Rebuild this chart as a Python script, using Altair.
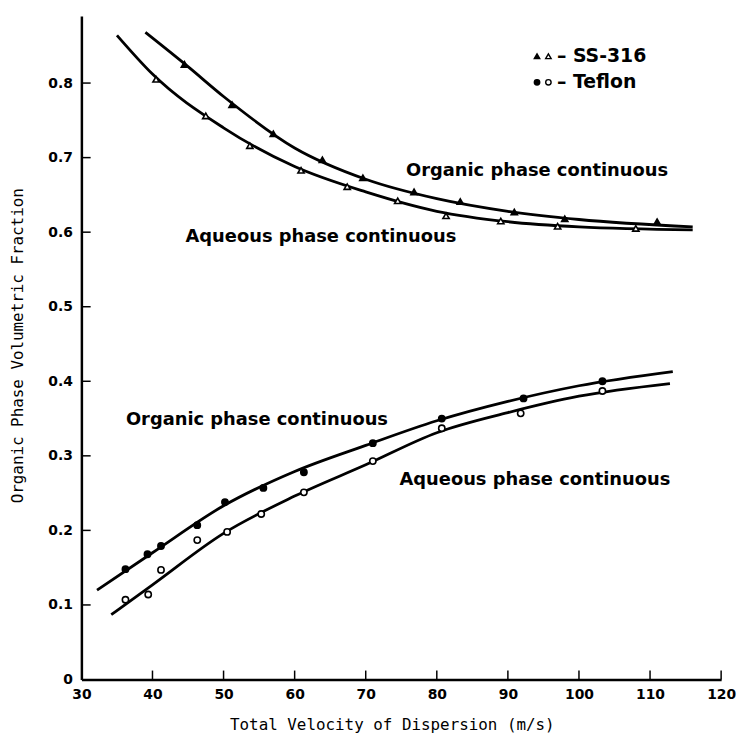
import altair as alt
import pandas as pd

# ---------------- data ----------------
# fitted curves
ss_org_curve_x = [39, 45, 50, 60, 70, 80, 90, 100, 116]
ss_org_curve_y = [0.868, 0.822, 0.782, 0.713, 0.671, 0.645, 0.628, 0.617, 0.607]
ss_aq_curve_x = [35, 40, 50, 60, 70, 80, 90, 100, 116]
ss_aq_curve_y = [0.864, 0.812, 0.740, 0.688, 0.654, 0.628, 0.614, 0.607, 0.603]
tf_org_curve_x = [32.2, 40, 50, 60, 70, 80, 90, 100, 113.2]
tf_org_curve_y = [0.120, 0.170, 0.233, 0.279, 0.314, 0.347, 0.373, 0.394, 0.413]
tf_aq_curve_x = [34.2, 40, 50, 60, 70, 80, 90, 100, 112.8]
tf_aq_curve_y = [0.087, 0.127, 0.196, 0.246, 0.288, 0.331, 0.358, 0.380, 0.397]

# measured points
ss_org_x = [44.5, 51.2, 57.0, 63.9, 69.6, 76.8, 83.3, 90.9, 98.0, 111.0]
ss_org_y = [0.825, 0.771, 0.732, 0.697, 0.673, 0.654, 0.641, 0.627, 0.618, 0.614]
ss_aq_x = [40.5, 47.5, 53.7, 60.9, 67.4, 74.5, 81.3, 89.0, 97.0, 108.0]
ss_aq_y = [0.805, 0.756, 0.716, 0.683, 0.661, 0.642, 0.622, 0.615, 0.608, 0.605]
tf_org_x = [36.2, 39.3, 41.2, 46.3, 50.2, 55.6, 61.3, 71.0, 80.7, 92.2, 103.3]
tf_org_y = [0.148, 0.168, 0.179, 0.207, 0.238, 0.257, 0.278, 0.317, 0.350, 0.377, 0.400]
tf_aq_x = [36.2, 39.4, 41.2, 46.3, 50.5, 55.3, 61.3, 71.0, 80.7, 91.8, 103.3]
tf_aq_y = [0.107, 0.114, 0.147, 0.187, 0.198, 0.222, 0.251, 0.293, 0.337, 0.357, 0.387]

# annotations
labels = ["Organic phase continuous", "Aqueous phase continuous",
          "Organic phase continuous", "Aqueous phase continuous"]
label_x = [94.1, 63.7, 54.7, 93.8]
label_y = [0.682, 0.594, 0.348, 0.268]

# legend
legend_names = ["– SS-316", "– Teflon"]
legend_y = [0.836, 0.801]
legend_sym_x_filled = 94.1
legend_sym_x_open = 95.7
legend_text_x = 96.9

x_ticks = [30, 40, 50, 60, 70, 80, 90, 100, 110, 120]
y_ticks = [0, 0.1, 0.2, 0.3, 0.4, 0.5, 0.6, 0.7, 0.8]

X_DOMAIN = [30, 120]
Y_DOMAIN = [0, 0.89]

FONT = "DejaVu Sans"
TITLE_FONT = "DejaVu Sans Mono"
W, H = 645, 669


def xenc(field="x"):
    return alt.X(f"{field}:Q",
                 scale=alt.Scale(domain=X_DOMAIN, nice=False, zero=False),
                 axis=alt.Axis(values=x_ticks, ticks=False, grid=False,
                               domainColor="black", domainWidth=2.5,
                               labelFont=FONT, labelFontWeight="bold",
                               labelFontSize=14, labelColor="black",
                               labelPadding=8, labelFlush=False,
                               title="Total Velocity of Dispersion (m/s)",
                               titleFont=TITLE_FONT, titleFontSize=16,
                               titleFontWeight="normal", titleColor="black",
                               titleX=313, titleY=45, titleBaseline="middle"))


def yenc(field="y"):
    return alt.Y(f"{field}:Q",
                 scale=alt.Scale(domain=Y_DOMAIN, nice=False, zero=False),
                 axis=alt.Axis(values=y_ticks, ticks=False, grid=False,
                               domainColor="black", domainWidth=2.5,
                               labelFont=FONT, labelFontWeight="bold",
                               labelFontSize=14, labelColor="black",
                               labelPadding=9, labelFlush=False,
                               labelExpr="datum.value == 0 ? '0' : format(datum.value, '.1f')",
                               title="Organic Phase Volumetric Fraction",
                               titleFont=TITLE_FONT, titleFontSize=16,
                               titleFontWeight="normal", titleColor="black",
                               titleAngle=270, titleX=-64, titleY=332,
                               titleBaseline="middle", titleAlign="center"))


layers = []

# curves
for cx, cy in [(ss_org_curve_x, ss_org_curve_y), (ss_aq_curve_x, ss_aq_curve_y),
               (tf_org_curve_x, tf_org_curve_y), (tf_aq_curve_x, tf_aq_curve_y)]:
    df = pd.DataFrame({"x": cx, "y": cy})
    layers.append(alt.Chart(df).mark_line(color="black", strokeWidth=2.8,
                                          interpolate="monotone")
                  .encode(x=xenc(), y=yenc()))

# markers
marker_specs = [
    (ss_org_x, ss_org_y, "triangle-up", "black"),
    (ss_aq_x, ss_aq_y, "triangle-up", "white"),
    (tf_org_x, tf_org_y, "circle", "black"),
    (tf_aq_x, tf_aq_y, "circle", "white"),
]
for mx, my, shape, fill in marker_specs:
    df = pd.DataFrame({"x": mx, "y": my})
    layers.append(alt.Chart(df).mark_point(shape=shape, filled=True, fill=fill,
                                           stroke="black", strokeWidth=1.6,
                                           size=40, opacity=1)
                  .encode(x=xenc(), y=yenc()))

# inward ticks
xt = pd.DataFrame({"x": x_ticks[1:], "y": [0] * (len(x_ticks) - 1),
                   "y2": [0.012] * (len(x_ticks) - 1)})
layers.append(alt.Chart(xt).mark_rule(color="black", strokeWidth=1.5)
              .encode(x=xenc(), y=yenc(), y2="y2:Q"))
yt = pd.DataFrame({"y": y_ticks[1:], "x": [30] * (len(y_ticks) - 1),
                   "x2": [31.3] * (len(y_ticks) - 1)})
layers.append(alt.Chart(yt).mark_rule(color="black", strokeWidth=1.5)
              .encode(x=xenc(), x2="x2:Q", y=yenc()))

# annotations
ann = pd.DataFrame({"x": label_x, "y": label_y, "t": labels})
layers.append(alt.Chart(ann).mark_text(font=FONT, fontWeight="bold", fontSize=18,
                                       color="black", align="center",
                                       baseline="middle")
              .encode(x=xenc(), y=yenc(), text="t:N"))

# legend
leg_f = pd.DataFrame({"x": [legend_sym_x_filled] * 2, "y": legend_y,
                      "s": ["triangle-up", "circle"]})
leg_o = pd.DataFrame({"x": [legend_sym_x_open] * 2, "y": legend_y,
                      "s": ["triangle-up", "circle"]})
for dfl, fill in [(leg_f, "black"), (leg_o, "white")]:
    layers.append(alt.Chart(dfl).mark_point(filled=True, fill=fill, stroke="black",
                                            strokeWidth=1.4, size=30, opacity=1)
                  .encode(x=xenc(), y=yenc(),
                          shape=alt.Shape("s:N", scale=None, legend=None)))
leg_t = pd.DataFrame({"x": [legend_text_x] * 2, "y": legend_y, "t": legend_names})
layers.append(alt.Chart(leg_t).mark_text(font=FONT, fontWeight="bold", fontSize=19,
                                         color="black", align="left",
                                         baseline="middle")
              .encode(x=xenc(), y=yenc(), text="t:N"))

chart = alt.layer(*layers).properties(
    width=W, height=H,
    autosize=alt.AutoSizeParams(type="none"),
    padding={"left": 74, "top": 5, "right": 16, "bottom": 62},
    background="white",
).configure_view(stroke=None)

chart.save("out.html", embed_options={"renderer": "svg", "actions": False})
